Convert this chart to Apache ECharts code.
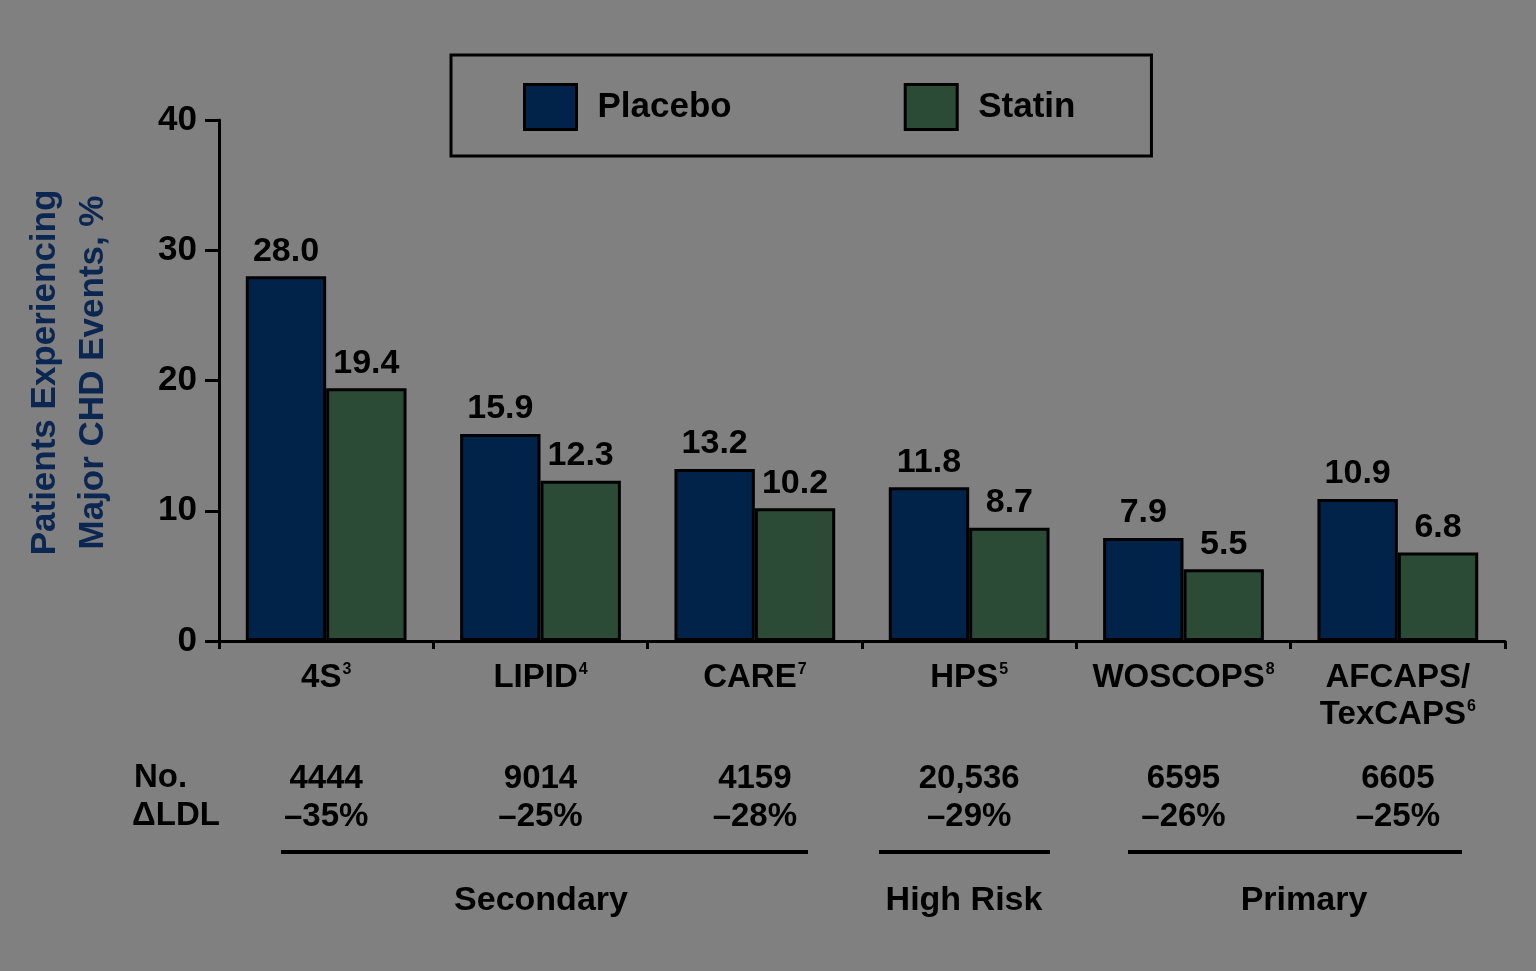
<!DOCTYPE html>
<html>
<head>
<meta charset="utf-8">
<script src="https://cdn.jsdelivr.net/npm/echarts@6/dist/echarts.min.js"></script>
<style>
html,body{margin:0;padding:0;background:#808080;}
#chart{width:1536px;height:971px;}
</style>
</head>
<body>
<div id="chart"></div>
<script>
// ---- data ----
var categories = ['4S', 'LIPID', 'CARE', 'HPS', 'WOSCOPS', 'AFCAPS/\nTexCAPS'];
var refs = ['3', '4', '7', '5', '8', '6'];
var placebo = [28.0, 15.9, 13.2, 11.8, 7.9, 10.9];
var statin = [19.4, 12.3, 10.2, 8.7, 5.5, 6.8];
var patientsNo = ['4444', '9014', '4159', '20,536', '6595', '6605'];
var ldlChange = ['–35%', '–25%', '–28%', '–29%', '–26%', '–25%'];
var yTicks = [0, 10, 20, 30, 40];
var groups = [
  {name: 'Secondary', x1: 281, x2: 808, cx: 541},
  {name: 'High Risk', x1: 879, x2: 1050, cx: 964},
  {name: 'Primary', x1: 1128, x2: 1462, cx: 1304}
];

var FONT = '"Liberation Sans", Arial, sans-serif';
var chart = echarts.init(document.getElementById('chart'), null, {renderer: 'canvas'});

function catLabel(value, idx) {
  var parts = value.split('\n');
  var l1, l2;
  if (parts.length > 1) {
    l1 = '{n|' + parts[0] + '}';
    l2 = '{n|' + parts[1] + '}{s|' + refs[idx] + '}';
  } else {
    l1 = '{n|' + parts[0] + '}{s|' + refs[idx] + '}';
    l2 = '{n| }';
  }
  return l1 + '\n' + l2 + '\n{g| }\n{v|' + patientsNo[idx] + '}\n{v|' + ldlChange[idx] + '}';
}

var graphics = [
  {type: 'text', left: 134, top: 780 - 19, style: {text: 'No.', font: 'bold 33px ' + FONT, fill: '#000'}},
  {type: 'text', left: 132, top: 818 - 19, style: {text: 'ΔLDL', font: 'bold 33px ' + FONT, fill: '#000'}}
];
groups.forEach(function (g) {
  graphics.push({type: 'line', shape: {x1: g.x1, y1: 852, x2: g.x2, y2: 852}, style: {stroke: '#000', lineWidth: 4}});
  graphics.push({type: 'text', x: g.cx, y: 901, style: {text: g.name, font: 'bold 34px ' + FONT, fill: '#000', align: 'center', verticalAlign: 'middle'}});
});

var labelStyle = {show: true, position: 'top', distance: 8, color: '#000', fontFamily: FONT, fontWeight: 'bold', fontSize: 34};

chart.setOption({
  backgroundColor: '#808080',
  animation: false,
  textStyle: {fontFamily: FONT},
  legend: {
    left: 451, top: 55,
    padding: [28, 76, 25, 72],
    borderColor: '#000', borderWidth: 3,
    itemWidth: 52, itemHeight: 45, itemGap: 172,
    icon: 'rect',
    itemStyle: {borderColor: '#000', borderWidth: 3},
    textStyle: {color: '#000', fontSize: 35, fontWeight: 'bold', fontFamily: FONT, padding: [0, 0, 0, 16]},
    data: ['Placebo', 'Statin']
  },
  grid: {left: 219, right: 31, top: 120, bottom: 330, containLabel: false},
  xAxis: {
    type: 'category',
    data: categories,
    axisLine: {lineStyle: {color: '#000', width: 3}},
    axisTick: {show: true, length: 8, lineStyle: {color: '#000', width: 3}},
    axisLabel: {
      interval: 0, margin: 18, color: '#000',
      formatter: catLabel,
      rich: {
        n: {fontSize: 33, fontWeight: 'bold', fontFamily: FONT, color: '#000', lineHeight: 37},
        s: {fontSize: 16, fontWeight: 'bold', fontFamily: FONT, color: '#000', lineHeight: 16, verticalAlign: 'top', padding: [3, 0, 0, 1]},
        g: {fontSize: 10, lineHeight: 27},
        v: {fontSize: 33, fontWeight: 'bold', fontFamily: FONT, color: '#000', lineHeight: 38}
      }
    }
  },
  yAxis: {
    type: 'value', min: 0, max: 40, interval: 10,
    name: 'Patients Experiencing\nMajor CHD Events, %',
    nameLocation: 'middle', nameRotate: 90, nameGap: 102,
    nameTextStyle: {color: '#0b2650', fontSize: 35, fontWeight: 'bold', fontFamily: FONT, lineHeight: 48, padding: [0, 0, 0, 16]},
    axisLine: {show: true, lineStyle: {color: '#000', width: 3}},
    axisTick: {show: true, length: 14, lineStyle: {color: '#000', width: 3}},
    splitLine: {show: false},
    axisLabel: {
      margin: 22, color: '#000', fontSize: 35, fontWeight: 'bold', fontFamily: FONT,
      formatter: function (v) { return yTicks.indexOf(v) >= 0 ? String(v) : ''; }
    }
  },
  series: [
    {
      name: 'Placebo', type: 'bar', data: placebo,
      barGap: '0%', barCategoryGap: '25%',
      itemStyle: {color: '#01234a', borderColor: '#000', borderWidth: 3},
      label: Object.assign({formatter: function (p) { return p.value.toFixed(1); }}, labelStyle)
    },
    {
      name: 'Statin', type: 'bar', data: statin,
      barGap: '0%', barCategoryGap: '25%',
      itemStyle: {color: '#2b4b37', borderColor: '#000', borderWidth: 3},
      label: Object.assign({formatter: function (p) { return p.value.toFixed(1); }}, labelStyle)
    }
  ],
  graphic: graphics
});
</script>
</body>
</html>
